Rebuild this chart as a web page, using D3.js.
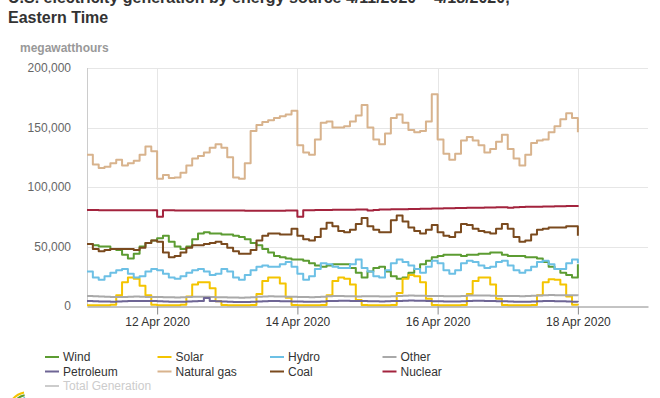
<!DOCTYPE html>
<html>
<head>
<meta charset="utf-8">
<script src="https://cdn.jsdelivr.net/npm/d3@7"></script>
<style>
body { margin: 0; background: #fff; }
text { font-family: "Liberation Sans", Arial, sans-serif; }
</style>
</head>
<body>
<svg width="660" height="398"></svg>
<script>
// readings every 2 hours from 4/11/2020 00:00 ET, in thousand MWh
var startTime = new Date(2020, 3, 11, 0);
var stepHours = 2;

var wind = [
    52, 51, 50, 50, 48, 47, 43, 40, 44, 50, 53, 55,
    57, 59, 54, 50, 48, 50, 56, 61, 62, 61, 61, 60,
    60, 59, 58, 56, 53, 51, 48, 45, 42, 41, 40, 39,
    39, 38, 36, 34, 33, 34, 35, 35, 35, 32, 28, 24,
    29, 32, 33, 29, 25, 23, 24, 28, 31, 35, 38, 41,
    42, 43, 43, 43, 42, 43, 43, 44, 44, 45, 45, 43,
    42, 42, 42, 41, 41, 40, 37, 33, 31, 28, 26, 24,
    35];
var solar = [
    0.6, 0.6, 0.6, 0.6, 1, 9, 20, 24, 23, 17, 9, 1,
    0.6, 0.6, 0.6, 0.6, 1, 8, 18, 20, 20, 15, 4, 0.8,
    0.6, 0.6, 0.6, 0.6, 0.8, 10, 21, 24, 24, 19, 7, 0.8,
    0.6, 0.6, 0.6, 0.6, 0.8, 9, 21, 24, 23, 18, 5, 0.8,
    0.6, 0.6, 0.6, 0.6, 0.8, 11, 23, 26, 25, 20, 6, 0.8,
    0.6, 0.6, 0.6, 0.6, 0.8, 10, 21, 24, 24, 18, 6, 0.8,
    0.6, 0.6, 0.6, 0.6, 0.8, 9, 20, 22.5, 22, 18, 8, 1,
    0.6];
var hydro = [
    29, 24, 22, 25, 28, 30, 31, 27, 24, 25, 29, 31,
    30, 27, 24, 23, 25, 28, 30, 31, 29, 26, 27, 31,
    29, 24, 22, 26, 30, 33, 34, 33, 33, 35, 37, 33,
    27, 22, 25, 31, 36, 35, 33, 32, 32, 35, 39, 32,
    29, 25, 24, 30, 36, 39, 37, 34, 31, 28, 33, 38,
    36, 30, 27, 30, 36, 38, 37, 34, 32, 33, 37, 38,
    34, 30, 28, 30, 33, 37, 38, 35, 31, 31, 36, 39,
    36];
var other = [
    8.4, 8.2, 8.0, 7.8, 7.6, 7.5, 7.6, 7.8, 7.9, 7.8, 7.6, 7.6,
    7.5, 7.4, 7.3, 7.2, 7.3, 7.5, 7.7, 7.8, 7.7, 7.5, 7.4, 7.3,
    7.2, 7.1, 7.0, 7.1, 7.4, 7.8, 8.0, 8.1, 8.0, 7.9, 7.8, 7.7,
    7.6, 7.5, 7.4, 7.5, 7.8, 8.1, 8.3, 8.3, 8.2, 8.1, 8.0, 8.2,
    8.2, 8.1, 8.0, 8.0, 8.2, 8.5, 8.7, 8.8, 8.7, 8.6, 8.5, 8.4,
    8.3, 8.2, 8.1, 8.2, 8.5, 8.8, 8.9, 8.9, 8.8, 8.6, 8.5, 8.4,
    8.4, 8.3, 8.2, 8.3, 8.6, 8.9, 9.1, 9.2, 9.1, 9.0, 9.0, 9.1,
    8.8];
var petroleum = [
    4.2, 4.0, 3.8, 3.7, 3.6, 3.7, 3.9, 4.1, 4.2, 4.3, 4.2, 4.1,
    3.9, 3.7, 3.6, 3.5, 3.6, 3.8, 4.0, 4.1, 6.8, 4.1, 4.0, 3.8,
    3.6, 3.4, 3.3, 3.3, 3.5, 3.8, 4.0, 4.1, 4.1, 4.0, 3.9, 3.8,
    3.7, 3.6, 3.5, 3.6, 3.8, 4.1, 4.3, 4.4, 4.4, 4.3, 4.2, 4.1,
    4.0, 3.9, 3.8, 3.9, 4.1, 4.3, 4.5, 4.6, 4.5, 4.4, 4.2, 4.0,
    3.9, 3.8, 3.7, 3.8, 4.0, 4.2, 4.4, 4.4, 4.3, 4.2, 4.0, 3.9,
    3.8, 3.6, 3.5, 3.6, 3.8, 4.0, 4.1, 4.1, 4.0, 3.9, 3.7, 3.5,
    3.3];
var naturalGas = [
    127, 119, 116, 117, 120, 123, 118, 120, 122, 127, 134, 130,
    107, 110, 107.5, 108, 112, 118, 124, 126, 129, 133, 136, 133,
    125, 108, 107, 120, 147, 152, 154.6, 156, 158, 159.5, 161, 164,
    135, 129, 127, 140, 154, 155, 150, 150, 151, 155, 160, 169,
    150, 140, 136, 145, 158, 161, 154, 148, 146, 147, 155, 178,
    140, 128, 123, 128, 139, 142, 139, 135, 129, 132, 138, 144,
    132, 124, 118, 127, 137, 139, 140, 146, 151, 157, 162, 158,
    146];
var coal = [
    52, 48, 46, 47, 48, 48, 48, 48, 47, 49, 53, 55,
    54, 45, 41, 42, 45, 49, 51, 51, 52, 53, 54, 52,
    49, 46, 44, 44, 47, 55, 59, 61, 61, 60, 60, 65,
    59, 56, 55, 58, 65, 70, 67, 63, 62, 64, 69, 74,
    67, 64, 62, 62, 72, 76, 71, 66, 63, 61, 64, 68,
    62, 59, 58, 62, 69, 68, 65, 63, 62, 61, 65, 69,
    65, 58, 54, 55, 60, 64, 65, 66, 66, 66, 67, 67,
    59];
var nuclear = [
    80.6, 80.6, 80.5, 80.5, 80.5, 80.4, 80.4, 80.4, 80.5, 80.5, 80.4, 80.4,
    75.0, 80.4, 80.4, 80.3, 80.3, 80.3, 80.2, 80.2, 80.2, 80.3, 80.3, 80.3,
    80.3, 80.2, 80.2, 80.1, 80.1, 80.1, 80.0, 80.0, 80.1, 80.1, 80.2, 80.2,
    75.0, 80.4, 80.5, 80.6, 80.7, 80.7, 80.8, 80.8, 80.9, 80.9, 81.0, 81.0,
    80.2, 80.6, 81.0, 81.1, 81.2, 81.3, 81.4, 81.5, 81.6, 81.7, 81.8, 81.9,
    82.0, 82.1, 82.2, 82.3, 82.4, 82.5, 82.5, 82.6, 82.7, 82.8, 82.9, 83.0,
    82.6, 83.0, 83.2, 83.3, 83.4, 83.5, 83.6, 83.7, 83.8, 83.9, 84.0, 84.0,
    83.5];

var seriesNames = ["Wind", "Solar", "Hydro", "Other", "Petroleum", "Natural gas", "Coal", "Nuclear", "Total Generation"];
var seriesColors = ["#5c9c32", "#f4c400", "#6cc0e5", "#a9a9a9", "#6e6595", "#d8b38d", "#7a4a1e", "#a3233d", "#cccccc"];
var seriesValues = [wind, solar, hydro, other, petroleum, naturalGas, coal, nuclear, null];

var yTicks = [0, 50000, 100000, 150000, 200000];
var xTicks = [new Date(2020, 3, 12), new Date(2020, 3, 14), new Date(2020, 3, 16), new Date(2020, 3, 18)];

var svg = d3.select("svg"),
    width = +svg.attr("width"),
    height = +svg.attr("height");

// plot box
var plotLeft = 87, plotRight = 648, plotTop = 68, plotBottom = 306;

var x = d3.scaleTime()
    .domain([new Date(2020, 3, 11), new Date(2020, 3, 19)])
    .range([plotLeft, plotRight]);

var y = d3.scaleLinear()
    .domain([0, 200000])
    .range([plotBottom, plotTop]);

//title, cut off at the top like the original
var title = svg.append("g")
    .attr("fill", "#333")
    .attr("font-size", "16px")
    .attr("font-weight", "bold");
title.append("text")
    .attr("x", 8).attr("y", 3)
    .text("U.S. electricity generation by energy source 4/11/2020 \u2013 4/18/2020,");
title.append("text")
    .attr("x", 8).attr("y", 23)
    .text("Eastern Time");

svg.append("text")
    .attr("x", 20).attr("y", 52)
    .attr("fill", "#999")
    .attr("font-size", "12px")
    .attr("font-weight", "bold")
    .text("megawatthours");

//grid
svg.append("g")
    .selectAll("line")
    .data(yTicks.slice(1))
    .enter().append("line")
    .attr("x1", plotLeft).attr("x2", plotRight)
    .attr("y1", function (d) { return Math.round(y(d)) + 0.5; })
    .attr("y2", function (d) { return Math.round(y(d)) + 0.5; })
    .attr("stroke", "#e6e6e6");

svg.append("g")
    .selectAll("line")
    .data(xTicks)
    .enter().append("line")
    .attr("x1", function (d) { return Math.round(x(d)) + 0.5; })
    .attr("x2", function (d) { return Math.round(x(d)) + 0.5; })
    .attr("y1", plotTop).attr("y2", plotBottom)
    .attr("stroke", "#e6e6e6");

svg.append("line")
    .attr("x1", plotLeft + 0.5).attr("x2", plotLeft + 0.5)
    .attr("y1", plotTop).attr("y2", plotBottom)
    .attr("stroke", "#ccc");

//y axis
var yAxis = svg.append("g")
    .attr("transform", "translate(" + plotLeft + ",0)")
    .call(d3.axisLeft(y)
        .tickValues(yTicks)
        .tickSize(0)
        .tickPadding(16)
        .tickFormat(d3.format(",")));
yAxis.select(".domain").remove();
yAxis.selectAll("text")
    .attr("fill", "#666")
    .attr("font-size", "12px")
    .attr("font-family", "Liberation Sans, Arial, sans-serif");

//series lines
var line = d3.line()
    .x(function (d, i) { return x(d3.timeHour.offset(startTime, i * stepHours)); })
    .y(function (d) { return y(d * 1000); })
    .curve(d3.curveStepAfter);

svg.append("g")
    .selectAll("path")
    .data(seriesValues.filter(function (d) { return d; }))
    .enter().append("path")
    .attr("fill", "none")
    .attr("stroke", function (d, i) { return seriesColors[i]; })
    .attr("stroke-width", 2)
    .attr("stroke-linejoin", "round")
    .attr("d", line);

//x axis
var xAxis = svg.append("g")
    .attr("transform", "translate(0," + (plotBottom + 0.5) + ")")
    .call(d3.axisBottom(x)
        .tickValues(xTicks)
        .tickSize(8)
        .tickSizeOuter(0)
        .tickFormat(d3.timeFormat("%-d %b %Y")));
xAxis.select(".domain").attr("stroke", "#888");
xAxis.selectAll(".tick line").attr("stroke", "#888");
xAxis.selectAll("text")
    .attr("fill", "#333")
    .attr("font-size", "12px")
    .attr("font-family", "Liberation Sans, Arial, sans-serif");

//legend
var legend = svg.append("g")
    .selectAll("g")
    .data(seriesNames)
    .enter().append("g")
    .attr("transform", function (d, i) {
        return "translate(" + (45 + (i % 4) * 112.5) + "," + (357 + Math.floor(i / 4) * 14.5) + ")";
    });

legend.append("line")
    .attr("x1", 0).attr("x2", 14)
    .attr("stroke", function (d, i) { return seriesColors[i]; })
    .attr("stroke-width", 2);

legend.append("text")
    .attr("x", 18)
    .attr("dy", "0.35em")
    .attr("font-size", "12px")
    .attr("fill", function (d, i) { return i == 8 ? "#ccc" : "#333"; })
    .text(function (d) { return d; });

//logo arcs, bottom left corner
var logoArcs = [
    {r: 20, color: "#f4c400"},
    {r: 17, color: "#5c9c32"},
    {r: 14, color: "#3a9bd5"}
];
svg.append("g")
    .attr("transform", "translate(28,412)")
    .selectAll("path")
    .data(logoArcs)
    .enter().append("path")
    .attr("fill", "none")
    .attr("stroke", function (d) { return d.color; })
    .attr("stroke-width", 2)
    .attr("d", function (d) {
        return d3.arc()({innerRadius: d.r, outerRadius: d.r, startAngle: -1.7, endAngle: -0.2});
    });
</script>
</body>
</html>
